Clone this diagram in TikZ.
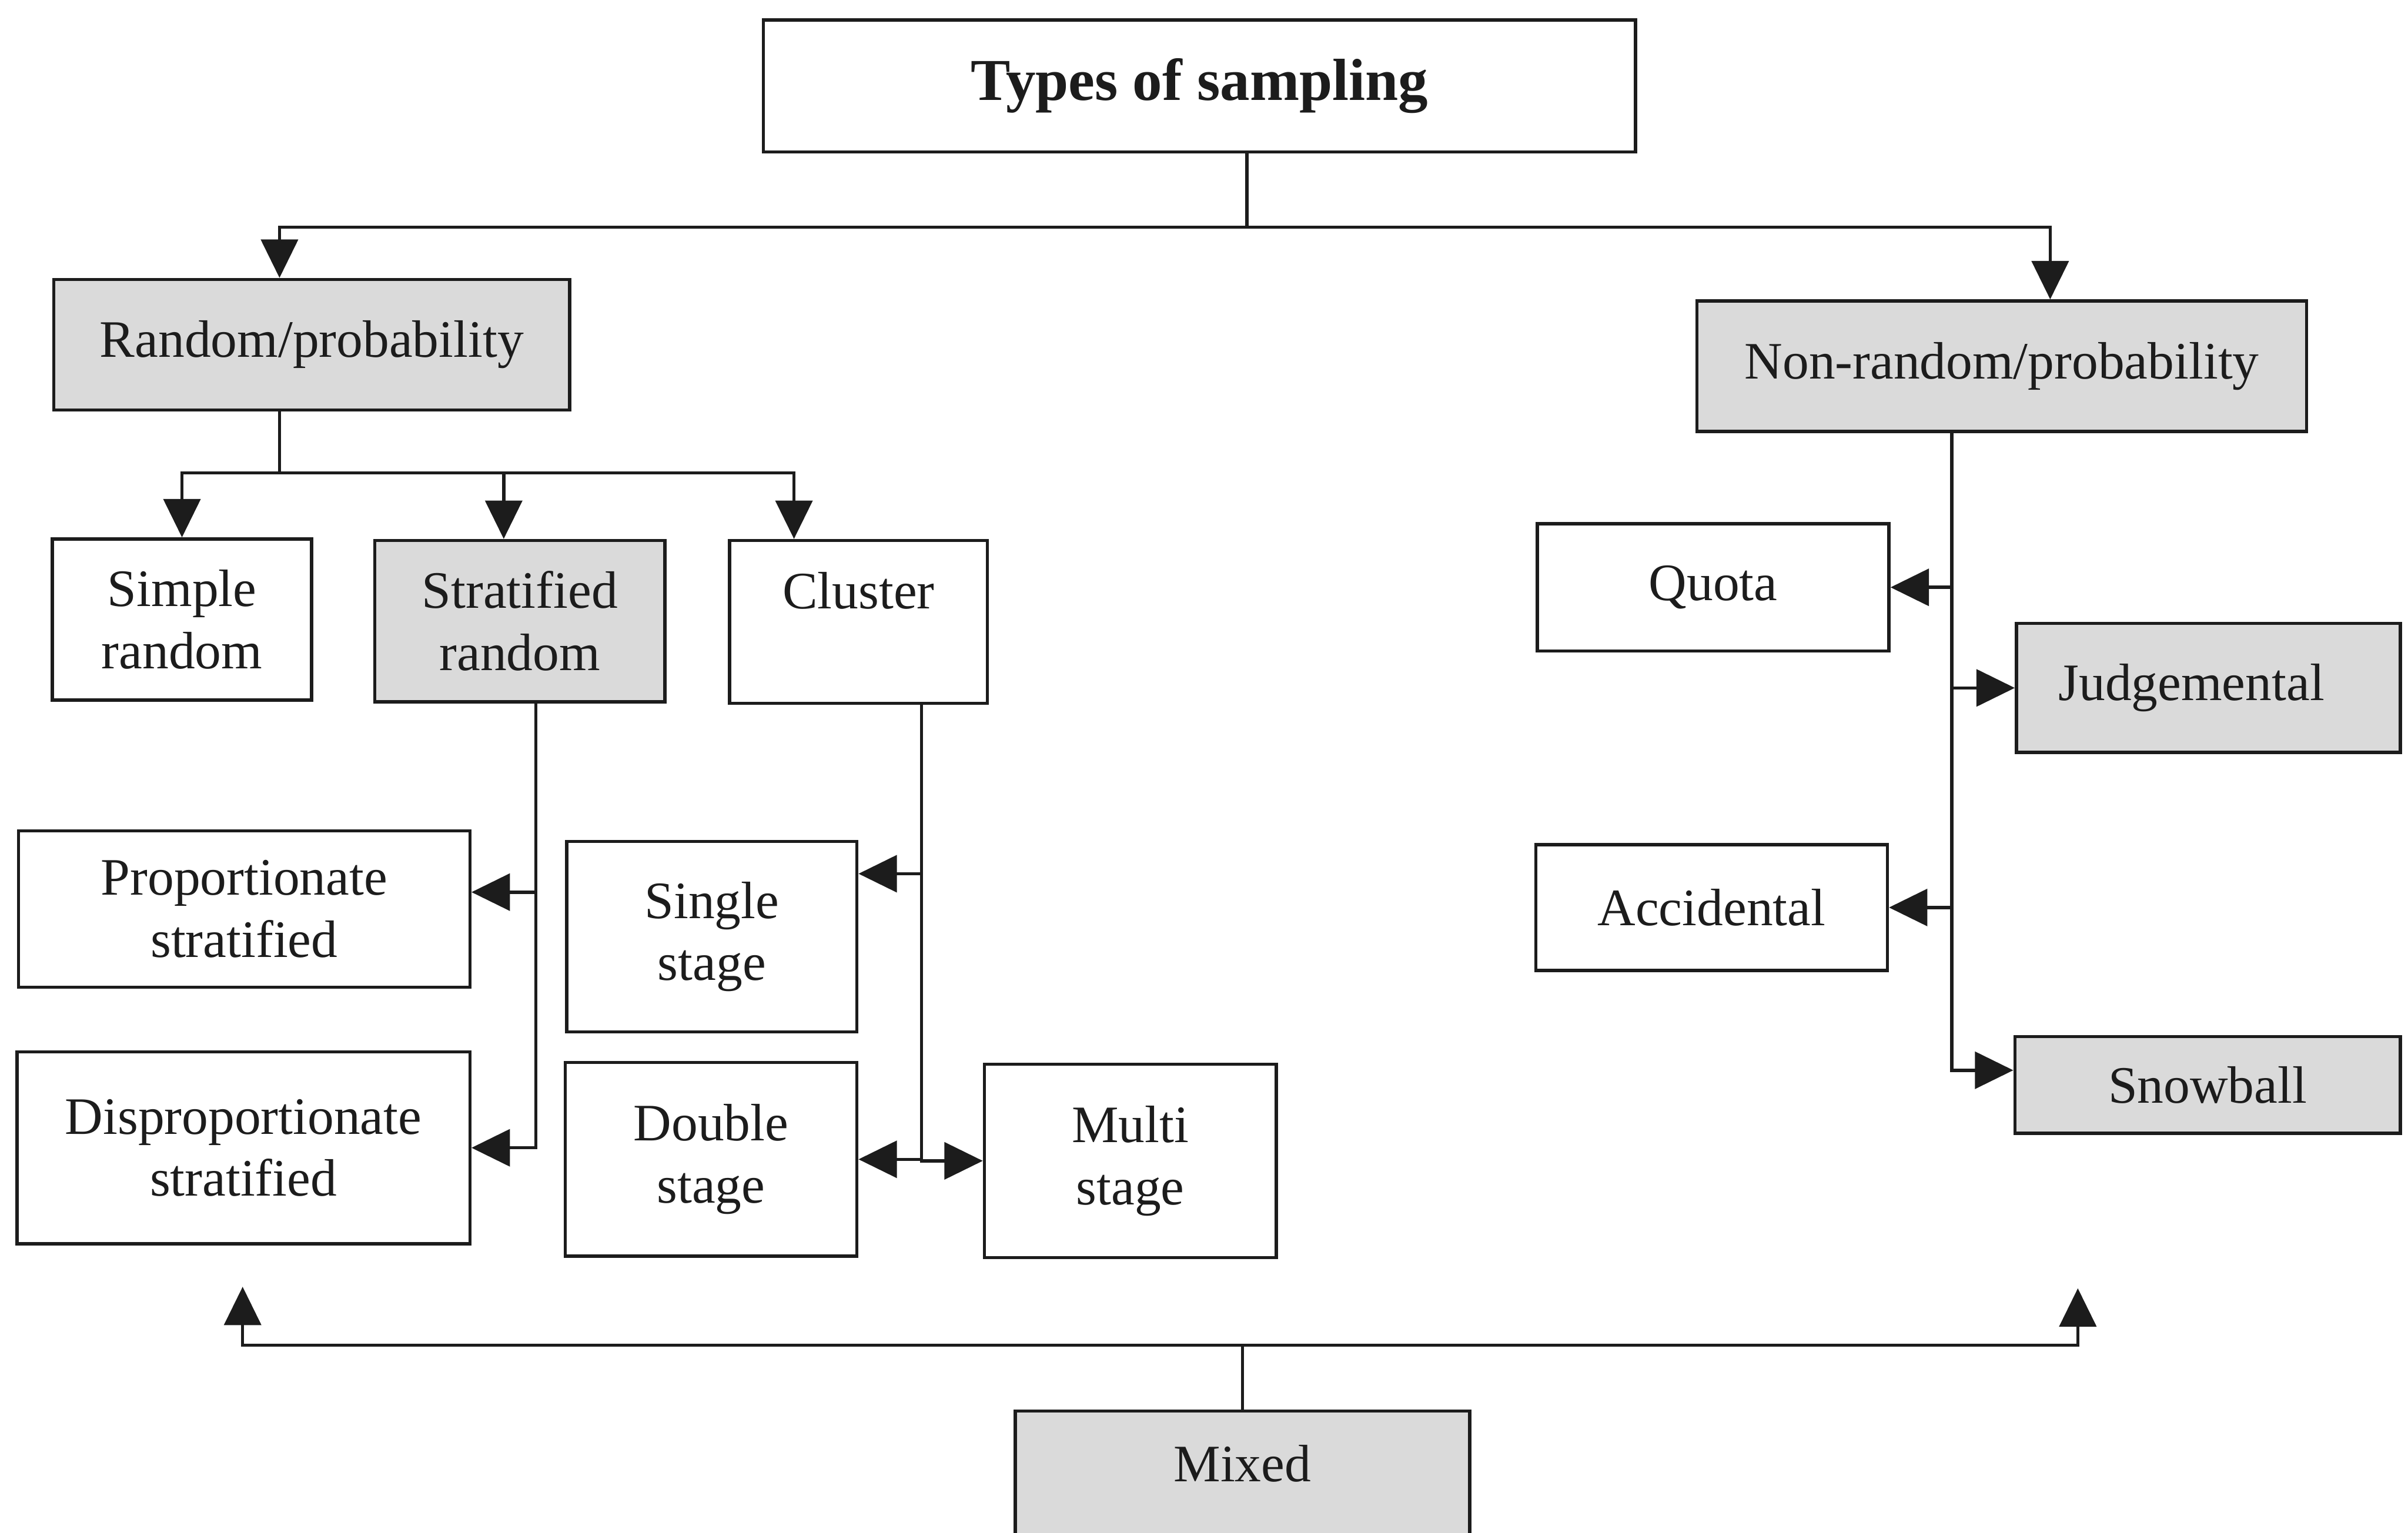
\documentclass[tikz,border=0pt]{standalone}
\usepackage{fontspec}
\setmainfont{Liberation Serif}
\usetikzlibrary{arrows.meta}
\definecolor{boxgray}{RGB}{218,218,218}
\definecolor{inkc}{RGB}{28,28,28}
\begin{document}
\begin{tikzpicture}[x=0.02cm, y=-0.02cm,
  box/.style={draw=inkc, line width=1.2pt, fill=white, text=inkc, align=center,
              inner sep=0pt, font=\fontsize{19.5}{23}\selectfont},
  shaded/.style={box, fill=boxgray},
  conn/.style={draw=inkc, line width=1.2pt},
  arr/.style={conn, -{Triangle[length=0.5cm,width=0.48cm]}}]
\useasboundingbox[fill=white] (0,0) rectangle (1568,998);

% top level
\node[box, minimum width=11.36cm, minimum height=1.72cm,
      font=\fontsize{22}{26}\selectfont\bfseries] (title) at (781,56) {Types of sampling};

% main branches
\node[shaded, minimum width=6.72cm, minimum height=1.70cm] (rand) at (203,224.5) {Random/probability};
\node[shaded, minimum width=7.94cm, minimum height=1.70cm] (nonrand) at (1303.5,238.5) {Non-random/probability};

% random sampling methods
\node[box, minimum width=3.38cm, minimum height=2.10cm] (simple) at (118.5,403.5) {Simple\\random};
\node[shaded, minimum width=3.78cm, minimum height=2.10cm] (strat) at (338.5,404.5) {Stratified\\random};
\node[box, minimum width=3.36cm, minimum height=2.12cm] (cluster) at (559,405) {Cluster\\\phantom{random}};

\node[box, minimum width=5.88cm, minimum height=2.04cm] (prop) at (159,592) {Proportionate\\stratified};
\node[box, minimum width=5.90cm, minimum height=2.50cm] (disp) at (158.5,747.5) {Disproportionate\\stratified};

\node[box, minimum width=3.78cm, minimum height=2.48cm] (single) at (463.5,610) {Single\\stage};
\node[box, minimum width=3.80cm, minimum height=2.52cm] (double) at (463,755) {Double\\stage};
\node[box, minimum width=3.80cm, minimum height=2.52cm] (multi) at (736,756) {Multi\\stage};

% non-random sampling methods
\node[box, minimum width=4.58cm, minimum height=1.66cm] (quota) at (1115.5,382.5) {Quota};
\node[shaded, minimum width=5.00cm, minimum height=1.68cm] (judge) at (1438,448) {Judgemental\hspace*{0.44cm}};
\node[box, minimum width=4.58cm, minimum height=1.64cm] (accid) at (1114.5,591) {Accidental};
\node[shaded, minimum width=5.02cm, minimum height=1.26cm] (snow) at (1437.5,706.5) {Snowball};

% mixed
\node[shaded, minimum width=5.92cm, minimum height=2.02cm, text depth=0.66cm] (mixed) at (809,969.5) {Mixed};

% junction points
\coordinate (tb) at (812,148);
\coordinate (busL) at (182,148);
\coordinate (busR) at (1335,148);
\coordinate (rj) at (182,308);
\coordinate (mj) at (810,876);
\coordinate (mL) at (158,838);
\coordinate (mR) at (1353,839);

% title to main branches
\draw[conn] (tb |- title.south) -- (tb);
\draw[arr] (tb) -- (busL) -- (busL |- rand.north);
\draw[arr] (tb) -- (busR) -- (busR |- nonrand.north);

% random branch
\draw[conn] (rj |- rand.south) -- (rj);
\draw[arr] (rj) -| (simple.north);
\draw[arr] (rj) -| ([xshift=-0.21cm]strat.north);
\draw[arr] (rj) -| ([xshift=-0.84cm]cluster.north);

% stratified
\draw[arr] ([xshift=0.21cm]strat.south) |- ([yshift=0.22cm]prop.east);
\draw[arr] ([xshift=0.21cm]strat.south) |- (disp.east);

% cluster
\draw[arr] ([xshift=0.82cm]cluster.south) |- ([yshift=0.82cm]single.east);
\draw[arr] ([xshift=0.82cm]cluster.south) |- (double.east);
\draw[arr] ([xshift=0.82cm]cluster.south) |- (multi.west);

% non-random branch
\draw[arr] ([xshift=-0.65cm]nonrand.south) |- (quota.east);
\draw[arr] ([xshift=-0.65cm]nonrand.south) |- (judge.west);
\draw[arr] ([xshift=-0.65cm]nonrand.south) |- (accid.east);
\draw[arr] ([xshift=-0.65cm]nonrand.south) |- ([yshift=0.19cm]snow.west);

% mixed links back to both families
\draw[conn] (mixed.north) -- (mixed.north |- mj);
\draw[arr] (mixed.north |- mj) -| (mL);
\draw[arr] (mixed.north |- mj) -| (mR);
\end{tikzpicture}
\end{document}
